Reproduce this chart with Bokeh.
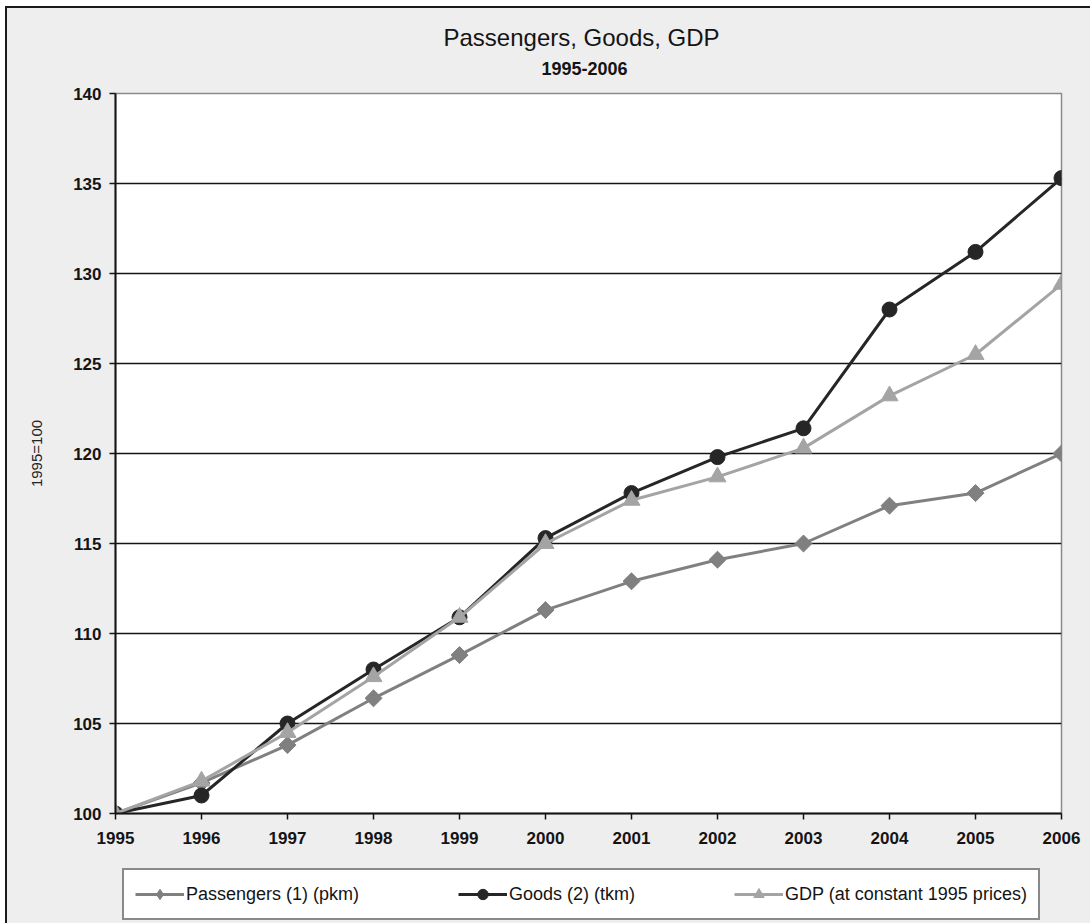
import numpy as np
from bokeh.plotting import figure
from bokeh.layouts import column
from bokeh.models import Range1d, Title, Legend, LegendItem, FixedTicker
from bokeh.embed import file_html
from bokeh.resources import INLINE

# Index values, 1995 = 100
years = [1995, 1996, 1997, 1998, 1999, 2000, 2001, 2002, 2003, 2004, 2005, 2006]
passengers = [100.0, 101.7, 103.8, 106.4, 108.8, 111.3, 112.9, 114.1, 115.0, 117.1, 117.8, 120.0]
goods = [100.0, 101.0, 105.0, 108.0, 110.9, 115.3, 117.8, 119.8, 121.4, 128.0, 131.2, 135.3]
gdp = [100.0, 101.8, 104.5, 107.6, 110.9, 115.0, 117.4, 118.7, 120.3, 123.2, 125.5, 129.4]
y_ticks = [100, 105, 110, 115, 120, 125, 130, 135, 140]

labels = ["Passengers (1) (pkm)", "Goods (2) (tkm)", "GDP (at constant 1995 prices)"]
series = [passengers, goods, gdp]
colors = ["#808080", "#262626", "#a4a4a4"]

FONT = "Liberation Sans"
INK = "#141414"
BG = "#eeeeee"

p = figure(
    width=1083, height=850,
    x_range=Range1d(years[0], years[-1]), y_range=Range1d(y_ticks[0], y_ticks[-1]),
    output_backend="svg", toolbar_location=None,
    min_border_left=108, min_border_right=29, min_border_top=85, min_border_bottom=45,
    background_fill_color="white", border_fill_color=BG,
)

# titles: subtitle sits next to the frame, main title above it
p.add_layout(Title(text="1995-2006", align="left", offset=426, text_font=FONT,
                   text_font_size="18px", text_font_style="bold", text_color=INK,
                   standoff=37), "above")
p.add_layout(Title(text="Passengers, Goods, GDP", align="left", offset=328, text_font=FONT,
                   text_font_size="24px", text_font_style="normal", text_color=INK,
                   standoff=-18), "above")

# axes
for ax in (p.xaxis[0], p.yaxis[0]):
    ax.axis_line_color = INK
    ax.axis_line_width = 2
    ax.major_tick_line_color = INK
    ax.major_tick_line_width = 1.5
    ax.major_tick_out = 6
    ax.major_tick_in = 0
    ax.minor_tick_line_color = None
    ax.major_label_text_font = FONT
    ax.major_label_text_font_size = "17px"
    ax.major_label_text_font_style = "bold"
    ax.major_label_text_color = INK

p.xaxis.ticker = FixedTicker(ticks=years)
p.xaxis.major_label_standoff = 12
p.yaxis.ticker = FixedTicker(ticks=y_ticks)
p.yaxis.major_label_standoff = 8
p.yaxis.axis_label = "1995=100"
p.yaxis.axis_label_text_font = FONT
p.yaxis.axis_label_text_font_size = "15px"
p.yaxis.axis_label_text_font_style = "normal"
p.yaxis.axis_label_text_color = "#222222"
p.yaxis.axis_label_standoff = 25

p.xgrid.visible = False
p.ygrid.grid_line_color = INK
p.ygrid.grid_line_width = 1.6

p.outline_line_color = "#8a8a8a"
p.outline_line_width = 1.5

# series lines and markers
marker_kw = [dict(marker="square", angle=np.pi / 4, size=12),
             dict(marker="circle", size=15),
             dict(marker="triangle", size=17)]
for vals, col, mk in zip(series, colors, marker_kw):
    p.line(years, vals, line_color=col, line_width=3)
    p.scatter(years, vals, fill_color=col, line_color=col, **mk)

# legend strip underneath the chart; its renderers sit outside the visible range
lg = figure(
    width=1083, height=65, x_range=Range1d(years[0], years[-1]), y_range=Range1d(0, 1),
    output_backend="svg", toolbar_location=None,
    x_axis_location=None, y_axis_location=None,
    min_border_left=0, min_border_right=0, min_border_top=0, min_border_bottom=0,
    background_fill_color=BG, border_fill_color=BG, outline_line_color=None,
)
lg.xgrid.visible = False
lg.ygrid.visible = False

legend_marks = [dict(marker="diamond", size=18),
                dict(marker="circle", size=12),
                dict(marker="triangle", size=13)]
items = []
for lab, vals, col, mk in zip(labels, series, colors, legend_marks):
    r_line = lg.line(years, vals, line_color=col, line_width=3)
    r_mark = lg.scatter(years, vals, fill_color=col, line_color=col, **mk)
    items.append(LegendItem(label=lab, renderers=[r_line, r_mark]))

legend = Legend(
    items=items, orientation="horizontal", location=(7, 3), margin=0,
    padding=11, spacing=99, glyph_width=49, glyph_height=26, label_height=26,
    label_standoff=2, label_text_font=FONT, label_text_font_size="18px",
    label_text_color=INK, border_line_color=INK, border_line_width=2,
    background_fill_color="white", background_fill_alpha=1.0,
)
lg.add_layout(legend, "center")

page = column(p, lg, spacing=0, margin=(8, 0, 0, 7),
              styles={"outline": "2px solid #1a1a1a", "background-color": BG})

open("out.html", "w").write(file_html(page, INLINE))
